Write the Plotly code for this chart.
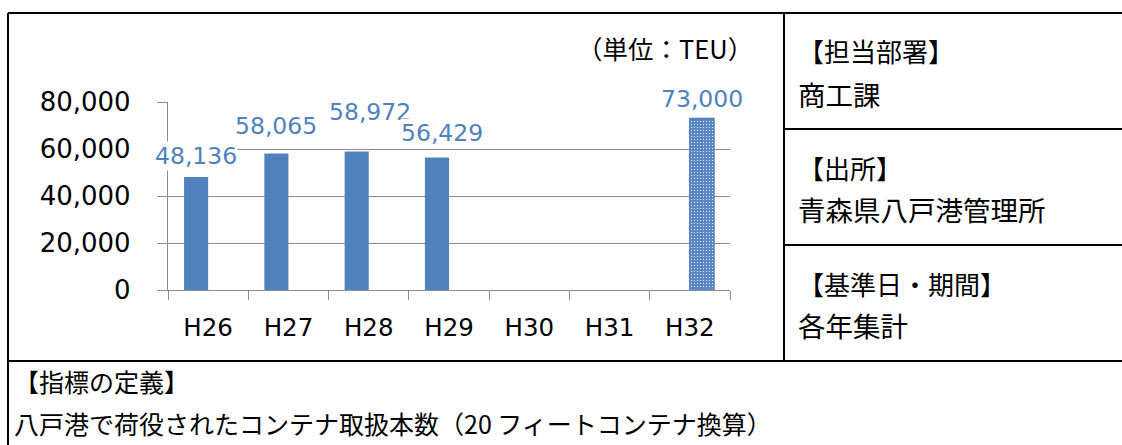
import plotly.graph_objects as go

# ---- data ----
categories = ["H26", "H27", "H28", "H29", "H30", "H31", "H32"]
actual_values = [48136, 58065, 58972, 56429, None, None, None]
target_values = [None, None, None, None, None, None, 73000]
y_tick_values = [0, 20000, 40000, 60000, 80000]
y_tick_labels = ["0", "20,000", "40,000", "60,000", "80,000"]

unit_text = "（単位：TEU）"
dept_title = "【担当部署】"
dept_text = "商工課"
source_title = "【出所】"
source_text = "青森県八戸港管理所"
period_title = "【基準日・期間】"
period_text = "各年集計"
definition_title = "【指標の定義】"
definition_text = "八戸港で荷役されたコンテナ取扱本数（20 フィートコンテナ換算）"

# ---- styling / layout helpers ----
W, H = 1122, 445
BLUE = "#4F81BD"
GRID = "#8C8C8C"
LATIN = "DejaVu Sans, Noto Sans CJK JP, sans-serif"
CJK = "Noto Sans CJK JP, sans-serif"


def px(x):
    return x / W


def py(y):
    return 1 - y / H


# Excel data-label placement offsets (pixels), per series
actual_label_dy = [21, 28, 39, 24, 0, 0, 0]
actual_label_dx = [0, 0, 13, 5, 0, 0, 0]
target_label_dy = [0, 0, 0, 0, 0, 0, 19]
target_label_dx = [0, 0, 0, 0, 0, 0, 0]

fig = go.Figure()
fig.add_trace(go.Bar(
    x=categories, y=actual_values, name="実績",
    marker=dict(color=BLUE, line=dict(width=0)),
    hoverinfo="skip",
))
fig.add_trace(go.Bar(
    x=categories, y=target_values, name="目標",
    marker=dict(
        color="#5A86C5",
        line=dict(color=BLUE, width=1.5),
        pattern=dict(shape=".", fgcolor="white", bgcolor="#5A86C5",
                     size=3, solidity=0.12),
    ),
    hoverinfo="skip",
))

annotations = []


def add_labels(values, dxs, dys, base_dx):
    for cat, v, dx, dy in zip(categories, values, dxs, dys):
        if v is not None:
            annotations.append(dict(
                x=cat, y=v, xref="x", yref="y", text=f"{v:,}",
                showarrow=False, xanchor="center", yanchor="middle",
                xshift=base_dx + dx, yshift=dy, bgcolor="white", borderpad=0,
                font=dict(family=LATIN, size=23.5, color=BLUE),
            ))


add_labels(actual_values, actual_label_dx, actual_label_dy, -12)
add_labels(target_values, target_label_dx, target_label_dy, 12)


def txt(x, y, text, size, anchor="left", family=CJK):
    annotations.append(dict(
        x=px(x), y=py(y), xref="paper", yref="paper", text=text,
        showarrow=False, xanchor=anchor, yanchor="middle",
        font=dict(family=family, size=size, color="black"),
    ))


txt(755, 48, unit_text, 25.5, anchor="right")
txt(796, 50, dept_title, 26)
txt(796, 94, dept_text, 27.5)
txt(796, 167, source_title, 26)
txt(796, 209, source_text, 27.5)
txt(796, 283, period_title, 26)
txt(796, 325, period_text, 27.5)
txt(12, 381, definition_title, 25)
txt(12, 423, definition_text, 25)


def line(x0, y0, x1, y1):
    return dict(type="line", xref="paper", yref="paper",
                x0=px(x0), y0=py(y0), x1=px(x1), y1=py(y1),
                line=dict(color="black", width=2))


shapes = [
    line(8, 13, W + 5, 13),
    line(8, 13, 8, H + 5),
    line(784, 13, 784, 361),
    line(784, 129, W + 5, 129),
    line(784, 245, W + 5, 245),
    line(8, 361, W + 5, 361),
]

fig.update_layout(
    template="none",
    width=W, height=H, autosize=False,
    margin=dict(l=0, r=0, t=0, b=0, pad=0),
    paper_bgcolor="white", plot_bgcolor="white",
    showlegend=False,
    barmode="group", bargap=0.4, bargroupgap=0,
    annotations=annotations, shapes=shapes,
    xaxis=dict(
        domain=[px(168), px(730)], automargin=False,
        categoryorder="array", categoryarray=categories,
        range=[-0.5, len(categories) - 0.5],
        showline=True, linecolor=GRID, linewidth=1.3,
        ticks="outside", tickson="boundaries", ticklen=9,
        tickcolor=GRID, tickwidth=1.3,
        showgrid=False, zeroline=False,
        ticklabelstandoff=15,
        tickfont=dict(family=LATIN, size=24.5, color="black"),
        fixedrange=True,
    ),
    yaxis=dict(
        domain=[py(290), py(102)], automargin=False,
        range=[0, 80000],
        tickvals=y_tick_values, ticktext=y_tick_labels,
        showline=True, linecolor=GRID, linewidth=1.3,
        ticks="outside", ticklen=10, tickcolor=GRID, tickwidth=1.3,
        showgrid=True, gridcolor=GRID, gridwidth=1.3,
        zeroline=False,
        ticklabelstandoff=21,
        tickfont=dict(family=LATIN, size=26, color="black"),
        fixedrange=True,
    ),
)

fig.write_html(
    "out.html",
    config={"displayModeBar": False},
    post_script="document.body.style.margin='0';document.body.style.overflow='hidden';",
)
